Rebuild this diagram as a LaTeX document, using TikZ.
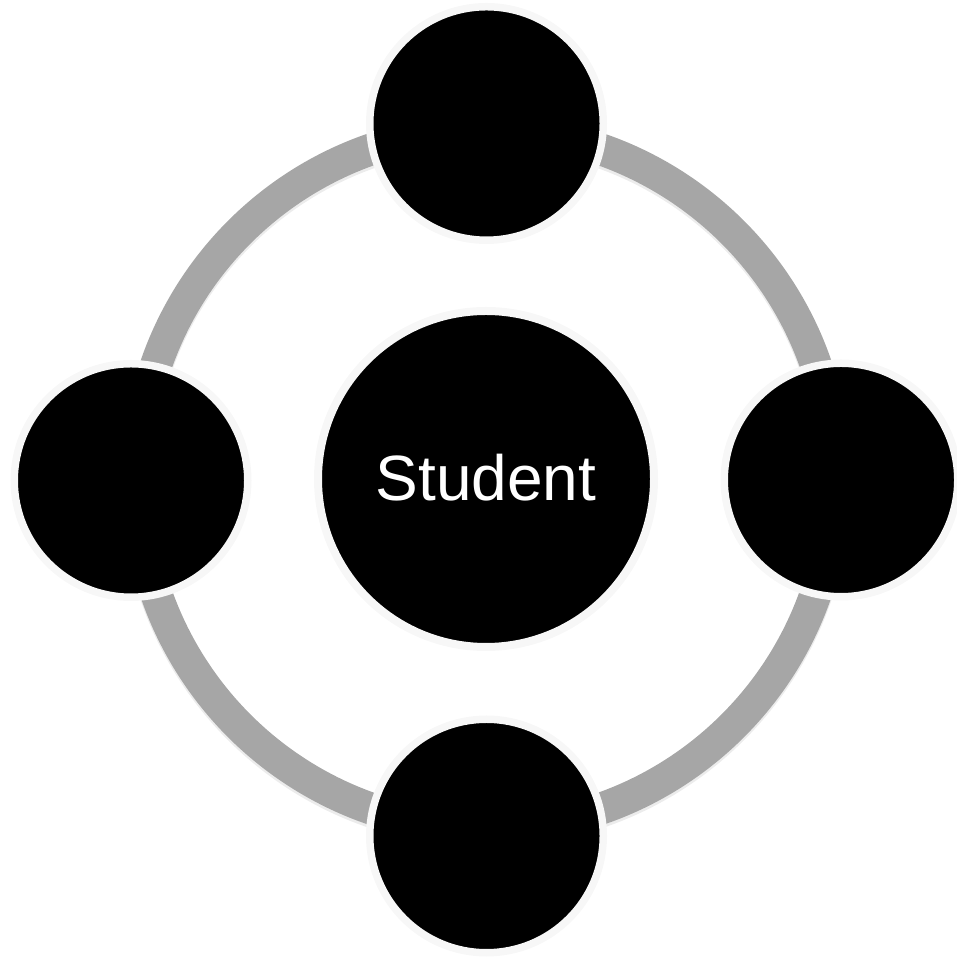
\documentclass[tikz,border=0pt]{standalone}
\usepackage{fontspec}
\setmainfont{Liberation Sans}
\usetikzlibrary{shadows}
\begin{document}
\begin{tikzpicture}[x=1pt,y=1pt,
  bubble/.style={circle, fill=black, draw=white!97!black, line width=7.5pt,
    minimum size=233.5pt, inner sep=0pt,
    circular drop shadow={shadow xshift=0pt, shadow yshift=-3pt, shadow scale=1.0, opacity=0.35}},
  hub/.style={bubble, line width=8pt, minimum size=336pt, text=white,
    font=\fontsize{64}{72}\selectfont},
  ring/.style={draw=black!35, line width=32pt}
]
\useasboundingbox (0,0) rectangle (956,957);
\coordinate (c) at (486,478);
\draw[draw=black!15, line width=32pt, opacity=0.5] ([yshift=-3pt]c) circle[radius=349];
\draw[ring] (c) circle[radius=349];
\node[bubble] (top) at (486.5,833.5) {};
\node[bubble] (left) at (131,476.5) {};
\node[bubble] (right) at (841,477) {};
\node[bubble] (bottom) at (486.5,121) {};
\node[hub] (stu) at (c) {\raisebox{3.5pt}{Student}};
\end{tikzpicture}
\end{document}
